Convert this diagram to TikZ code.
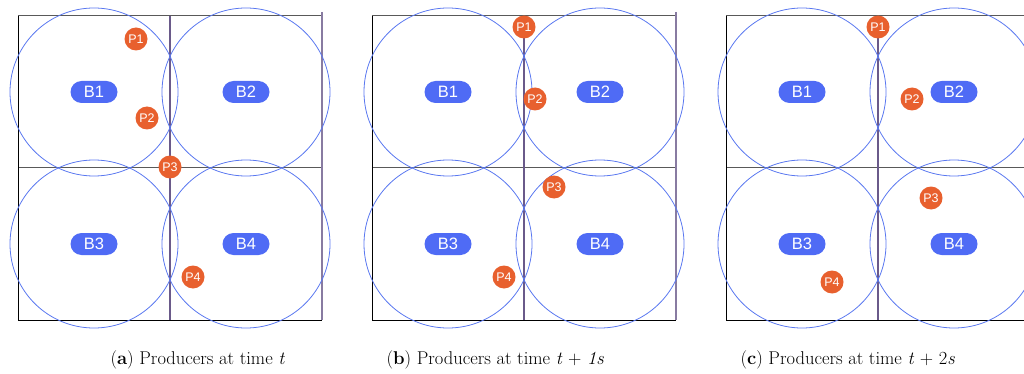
\documentclass[tikz,border=0pt]{standalone}
\usepackage{fontspec}
\newfontfamily\labelfont{Liberation Sans}
\usetikzlibrary{positioning}
\definecolor{brokerblue}{HTML}{4F6BF5}
\definecolor{rangeblue}{HTML}{5A78F0}
\definecolor{prodorange}{HTML}{E8602E}
\definecolor{gridpurple}{HTML}{6A5A8A}

\begin{document}
\begin{tikzpicture}[x=1pt, y=-1pt,
    broker/.style={fill=brokerblue, text=white, rounded corners=11pt,
      minimum width=47pt, minimum height=22pt, inner sep=0pt,
      font=\labelfont\fontsize{16.5}{16.5}\selectfont},
    prod/.style={circle, fill=prodorange, text=white, minimum size=23pt,
      inner sep=0pt, font=\labelfont\fontsize{12.5}{12.5}\selectfont},
    brokerrange/.style={draw=rangeblue, line width=0.8pt},
    caption/.style={anchor=base west, font=\fontsize{18.5}{21}\selectfont}]
  \useasboundingbox (0,0) rectangle (1024,374);

  %% Three panels: grid of four cells, broker ranges and broker labels
  \foreach \o/\tag in {18/a, 372/b, 726/c}{
    \begin{scope}[shift={(\o,16)}]
      \draw[gray!70!black, line width=1pt] (0,0) -- (304,0);
      \draw[gray!70!black, line width=1pt] (0,152) -- (304,152);
      \draw[black, line width=1pt] (0,0) -- (0,304) -- (304,304);
      \draw[gridpurple, line width=1.1pt] (152,0) -- (152,304);
      \draw[gridpurple!80, line width=1.2pt] (304,-4) -- (304,304);
      %% Broker ranges
      \foreach \cx/\cy in {76/76, 228/76, 76/228, 228/228}{
        \draw[brokerrange] (\cx,\cy) circle (84);
      }
      %% Brokers
      \node[broker] (\tag-B1) at (76,76) {B1};
      \node[broker] (\tag-B2) at (228,76) {B2};
      \node[broker] (\tag-B3) at (76,228) {B3};
      \node[broker] (\tag-B4) at (228,228) {B4};
    \end{scope}
  }

  %% Producers at time t
  \node[prod] (a-P1) at (136,39) {P1};
  \node[prod] (a-P2) at (147,118) {P2};
  \node[prod] (a-P3) at (170,167) {P3};
  \node[prod] (a-P4) at (193,277) {P4};

  %% Producers at time t + 1s
  \node[prod] (b-P1) at (524,27) {P1};
  \node[prod] (b-P2) at (535,99) {P2};
  \node[prod] (b-P3) at (554,187) {P3};
  \node[prod] (b-P4) at (504,277) {P4};

  %% Producers at time t + 2s
  \node[prod] (c-P1) at (878,27) {P1};
  \node[prod] (c-P2) at (912,99) {P2};
  \node[prod] (c-P3) at (931,198) {P3};
  \node[prod] (c-P4) at (832,282) {P4};

  %% Captions
  \node[caption] (cap-a) at (107,364) {(\textbf{a}) Producers at time \textit{t}};
  \node[caption] (cap-b) at (383,364) {(\textbf{b}) Producers at time \textit{t} + \textit{1s}};
  \node[caption] (cap-c) at (737,364) {(\textbf{c}) Producers at time \textit{t} + 2\textit{s}};
\end{tikzpicture}
\end{document}
